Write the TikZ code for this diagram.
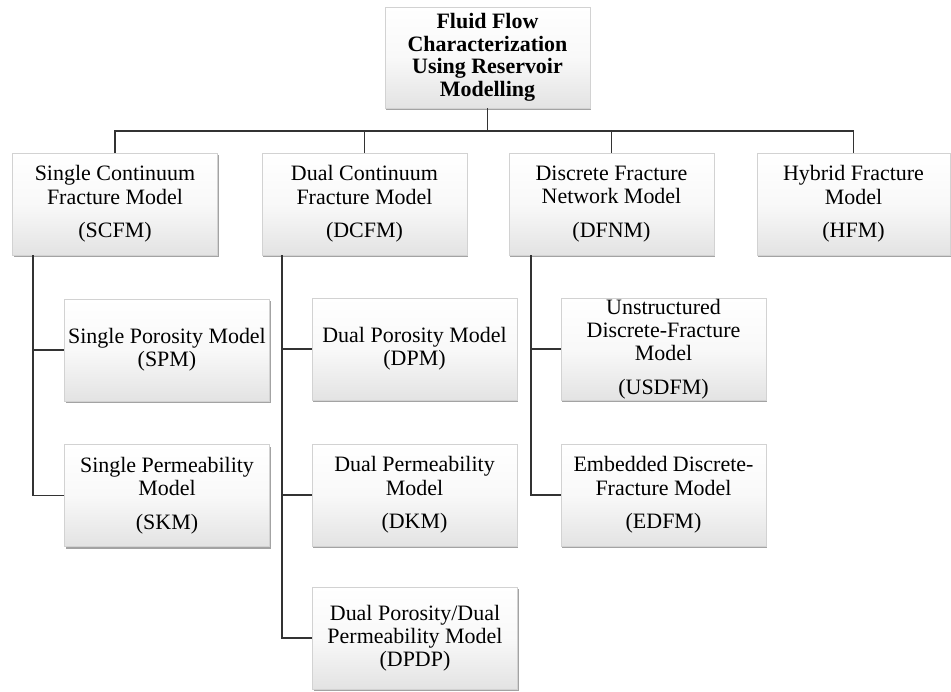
\documentclass[tikz,border=0pt]{standalone}
\usepackage{fontspec}
\setmainfont{Liberation Serif}
\usetikzlibrary{shadows}

\tikzset{
  model/.style={draw=gray!35, line width=0.4pt, top color=white, bottom color=gray!22,
    middle color=white!95!gray,
    drop shadow={shadow xshift=0.7pt, shadow yshift=-1.2pt, fill=gray!80, opacity=0.9},
    minimum width=4.1cm, minimum height=2.04cm, align=center,
    inner sep=0pt, font=\fontsize{12.5}{13.2}\selectfont},
  link/.style={draw=black!80, line width=1pt}
}

\begin{document}
\begin{tikzpicture}[x=0.02cm, y=-0.02cm]

\useasboundingbox (0,0) rectangle (951,691);

\node [model, minimum height=2.02cm, font=\bfseries\fontsize{12.5}{12.8}\selectfont] (root) at (487.5,57.5)
  {Fluid Flow\\Characterization\\Using Reservoir\\Modelling};

% first level
\node [model] (scfm) at (115,204) {Single Continuum\\Fracture Model\\[6pt](SCFM)};
\node [model] (dcfm) at (364.5,204) {Dual Continuum\\Fracture Model\\[6pt](DCFM)};
\node [model] (dfnm) at (611.5,204) {Discrete Fracture\\Network Model\\[6pt](DFNM)};
\node [model, minimum width=3.86cm] (hfm) at (853.5,204) {Hybrid Fracture\\Model\\[6pt](HFM)};

% under SCFM
\node [model] (spm) at (167,350) {Single Porosity Model\\(SPM)};
\node [model] (skm) at (167,495.5) {Single Permeability\\Model\\[6pt](SKM)};

% under DCFM
\node [model] (dpm) at (414.5,349) {Dual Porosity Model\\(DPM)};
\node [model] (dkm) at (414.5,495) {Dual Permeability\\Model\\[6pt](DKM)};
\node [model] (dpdp) at (415,638) {Dual Porosity/Dual\\Permeability Model\\(DPDP)};

% under DFNM
\node [model] (usdfm) at (663.5,349) {Unstructured\\Discrete-Fracture\\Model\\[6pt](USDFM)};
\node [model] (edfm) at (663.5,495) {Embedded Discrete-\\Fracture Model\\[6pt](EDFM)};

% bus
\coordinate (bus) at (0,131);
\draw [link] (root.south) -- (root.south |- bus);
\draw [link] (scfm.north) |- (hfm.north |- bus) -- (hfm.north);
\draw [link] (dcfm.north) -- (dcfm.north |- bus);
\draw [link] (dfnm.north) -- (dfnm.north |- bus);

% trunks
\draw [link] ([xshift=0.42cm]scfm.south west) |- (spm.west);
\draw [link] ([xshift=0.42cm]scfm.south west) |- (skm.west);

\draw [link] ([xshift=0.4cm]dcfm.south west) |- (dpm.west);
\draw [link] ([xshift=0.4cm]dcfm.south west) |- (dkm.west);
\draw [link] ([xshift=0.4cm]dcfm.south west) |- (dpdp.west);

\draw [link] ([xshift=0.44cm]dfnm.south west) |- (usdfm.west);
\draw [link] ([xshift=0.44cm]dfnm.south west) |- (edfm.west);

\end{tikzpicture}
\end{document}
